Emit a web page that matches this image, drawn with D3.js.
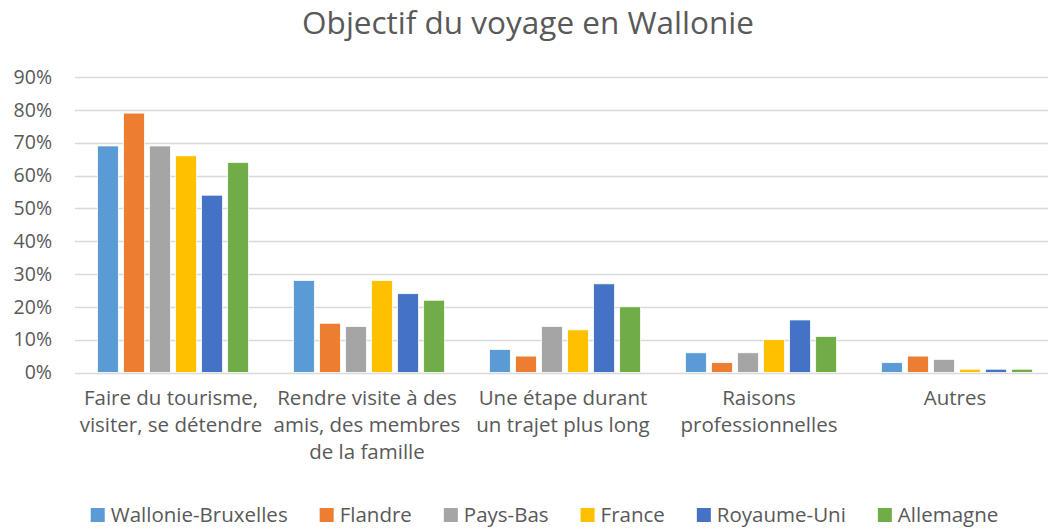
<!DOCTYPE html>
<html>
<head>
<meta charset="utf-8">
<script src="https://cdn.jsdelivr.net/npm/d3@7"></script>
<style>
  body { margin: 0; background: #fff; }
  text { font-family: "Open Sans", "Noto Sans", sans-serif; fill: #595959; }
</style>
</head>
<body>
<div id="chart"></div>
<script>
var width = 1048;
var height = 529;

var title = "Objectif du voyage en Wallonie";
var categories = [
  ["Faire du tourisme,", "visiter, se détendre"],
  ["Rendre visite à des", "amis, des membres", "de la famille"],
  ["Une étape durant", "un trajet plus long"],
  ["Raisons", "professionnelles"],
  ["Autres"]
];
var series = ["Wallonie-Bruxelles", "Flandre", "Pays-Bas", "France", "Royaume-Uni", "Allemagne"];
var colors = ["#5B9BD5", "#ED7D31", "#A5A5A5", "#FFC000", "#4472C4", "#70AD47"];
// values per series, one per category (in %)
var wallonieBruxelles = [69, 28, 7, 6, 3];
var flandre = [79, 15, 5, 3, 5];
var paysBas = [69, 14, 14, 6, 4];
var france = [66, 28, 13, 10, 1];
var royaumeUni = [54, 24, 27, 16, 1];
var allemagne = [64, 22, 20, 11, 1];
var values = [wallonieBruxelles, flandre, paysBas, france, royaumeUni, allemagne];
var yTicks = [0, 10, 20, 30, 40, 50, 60, 70, 80, 90];

var plotLeft = 75, plotRight = 1055;
var plotTop = 77, plotBottom = 372.5;

var svg = d3.select("#chart").append("svg")
  .attr("width", width)
  .attr("height", height)
  .style("display", "block");

var x0 = d3.scaleBand()
  .domain(d3.range(categories.length))
  .range([plotLeft, plotRight])
  .padding(0);

var x1 = d3.scaleBand()
  .domain(d3.range(series.length))
  .range([22.5, 173.5])
  .paddingInner(0.2)
  .paddingOuter(0);

var y = d3.scaleLinear()
  .domain([0, 90])
  .range([plotBottom, plotTop]);

// gridlines
svg.append("g").selectAll("line")
  .data(yTicks)
  .enter().append("line")
  .attr("x1", plotLeft)
  .attr("x2", plotRight)
  .attr("y1", function(d) { return Math.round(y(d)) + 0.5; })
  .attr("y2", function(d) { return Math.round(y(d)) + 0.5; })
  .style("stroke", "#D9D9D9")
  .style("stroke-width", 1.3);

// y axis labels
var yAxis = d3.axisLeft(y)
  .tickValues(yTicks)
  .tickSize(0)
  .tickPadding(0)
  .tickFormat(function(d) { return d + "%"; });
var ya = svg.append("g")
  .attr("transform", "translate(" + 52 + ",0)")
  .call(yAxis);
ya.select(".domain").remove();
ya.selectAll("text")
  .style("font-size", "19.5px")
  .style("font-family", "'Open Sans', sans-serif")
  .attr("fill", "#595959");

// bars
var groups = svg.append("g").selectAll("g")
  .data(categories)
  .enter().append("g")
  .attr("transform", function(d, i) { return "translate(" + x0(i) + ",0)"; });

groups.selectAll("rect")
  .data(function(d, ci) { return values.map(function(s, si) { return {s: si, v: s[ci]}; }); })
  .enter().append("rect")
  .attr("x", function(d) { return x1(d.s); })
  .attr("width", x1.bandwidth())
  .attr("y", function(d) { return y(d.v); })
  .attr("height", function(d) { return plotBottom - y(d.v); })
  .style("fill", function(d) { return colors[d.s]; })
  .style("stroke", "#fff")
  .style("stroke-width", 0.75);

// category labels
groups.each(function(lines, i) {
  var t = d3.select(this).append("text")
    .attr("x", x0.bandwidth() / 2 - 2)
    .attr("y", 405)
    .style("text-anchor", "middle")
    .style("font-size", "20.5px");
  lines.forEach(function(l, j) {
    t.append("tspan")
      .attr("x", x0.bandwidth() / 2 - 2)
      .attr("dy", j === 0 ? 0 : 27)
      .text(l);
  });
});

// title
svg.append("text")
  .attr("x", 528)
  .attr("y", 34)
  .style("text-anchor", "middle")
  .style("font-size", "31.5px")
  .text(title);

// legend
var legend = svg.append("g");
var lx = 0;
series.forEach(function(name, i) {
  var item = legend.append("g").attr("transform", "translate(" + lx + ",0)");
  item.append("rect")
    .attr("x", 0).attr("y", -7)
    .attr("width", 14).attr("height", 14)
    .style("fill", colors[i]);
  var t = item.append("text")
    .attr("x", 20).attr("y", 7)
    .style("font-size", "20.5px")
    .text(name);
  lx += 20 + t.node().getComputedTextLength() + 32;
});
lx -= 32;
legend.attr("transform", "translate(" + (544.5 - lx / 2) + ",515)");
</script>
</body>
</html>
